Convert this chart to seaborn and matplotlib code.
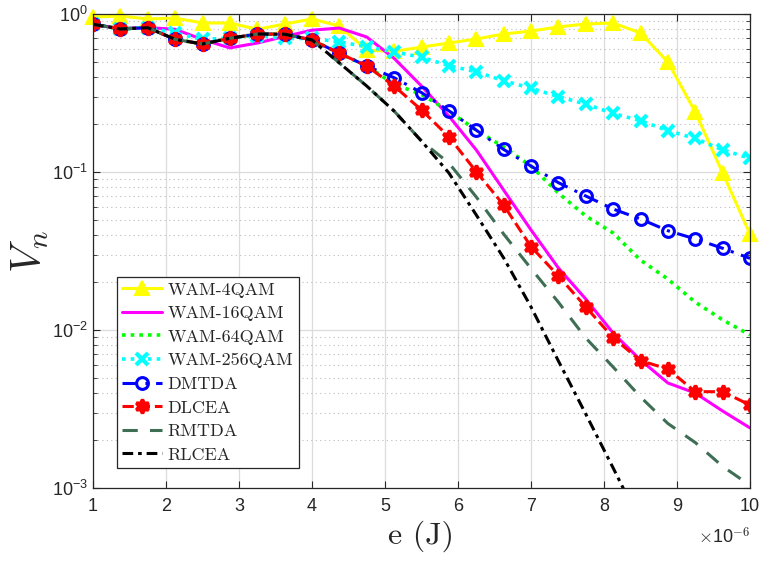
import matplotlib
matplotlib.use("Agg")
import matplotlib.pyplot as plt
import seaborn as sns
import numpy as np
from matplotlib.ticker import LogLocator, FixedLocator, NullFormatter

# ---------------- data ----------------
energy = [1.0, 1.375, 1.75, 2.125, 2.5, 2.875, 3.25, 3.625, 4.0, 4.375, 4.75, 5.125,
          5.5, 5.875, 6.25, 6.625, 7.0, 7.375, 7.75, 8.125, 8.5, 8.875, 9.25, 9.625, 10.0]

wam_4qam = [0.957, 0.971, 0.93, 0.943, 0.877, 0.877, 0.80, 0.864, 0.93, 0.839, 0.59, 0.58,
            0.618, 0.655, 0.695, 0.747, 0.78, 0.828, 0.865, 0.877, 0.758, 0.497, 0.24, 0.0986, 0.0405]
wam_16qam = [0.86, 0.81, 0.82, 0.80, 0.69, 0.61, 0.655, 0.72, 0.79, 0.815, 0.715, 0.524,
             0.35, 0.226, 0.138, 0.0769, 0.043, 0.0247, 0.0157, 0.00957, 0.00646, 0.00462, 0.00399, 0.00307, 0.0024]
wam_64qam = [0.861, 0.804, 0.819, 0.691, 0.646, 0.702, 0.747, 0.745, 0.685, 0.564, 0.469, 0.36,
             0.31, 0.243, 0.184, 0.144, 0.109, 0.0736, 0.0527, 0.0411, 0.0277, 0.021, 0.0150, 0.0116, 0.0093]
wam_256qam = [0.861, 0.804, 0.819, 0.758, 0.69, 0.705, 0.73, 0.70, 0.70, 0.667, 0.62, 0.577,
              0.532, 0.471, 0.431, 0.378, 0.339, 0.30, 0.269, 0.235, 0.211, 0.183, 0.163, 0.138, 0.122]
dmtda = [0.861, 0.804, 0.819, 0.691, 0.646, 0.702, 0.747, 0.745, 0.685, 0.564, 0.469, 0.395,
         0.318, 0.244, 0.184, 0.139, 0.109, 0.0856, 0.0705, 0.0583, 0.0504, 0.0425, 0.0377, 0.0329, 0.0284]
dlcea = [0.861, 0.804, 0.819, 0.691, 0.646, 0.702, 0.747, 0.745, 0.685, 0.564, 0.469, 0.350,
         0.247, 0.167, 0.1005, 0.0618, 0.0337, 0.022, 0.0140, 0.00894, 0.0064, 0.00566, 0.00407, 0.00407, 0.00335]
rmtda = [0.861, 0.804, 0.819, 0.691, 0.646, 0.702, 0.747, 0.745, 0.685, 0.49, 0.35, 0.243,
         0.157, 0.114, 0.0695, 0.0405, 0.0245, 0.0150, 0.0089, 0.00583, 0.00377, 0.00256, 0.00194, 0.00137, 0.00104]
rlcea = [0.861, 0.804, 0.819, 0.691, 0.646, 0.702, 0.747, 0.745, 0.685, 0.49, 0.35, 0.243,
         0.157, 0.0986, 0.0535, 0.0286, 0.014, 0.00637, 0.00294, 0.00134, 0.0006, 0.00026, 0.00011, 0.00005, 0.00002]

x_ticks = [1, 2, 3, 4, 5, 6, 7, 8, 9, 10]

# ---------------- style ----------------
sns.set_theme(style="ticks")
plt.rcParams["font.family"] = ["Liberation Sans", "DejaVu Sans"]
plt.rcParams["mathtext.fontset"] = "cm"
plt.rcParams["axes.unicode_minus"] = False

fig = plt.figure(figsize=(7.59, 5.65), dpi=100)
ax = fig.add_axes([93 / 759, 1 - 488 / 565, (750 - 93) / 759, (488 - 14) / 565])

series = [
    ("WAM-4QAM", wam_4qam, dict(color="#ffff00", linestyle="-", linewidth=2.2, marker="^",
                                markersize=10, markerfacecolor="#ffff00", markeredgecolor="#ffff00",
                                markeredgewidth=1.5, clip_on=False)),
    ("WAM-16QAM", wam_16qam, dict(color="#ff00ff", linestyle="-", linewidth=2.2)),
    ("WAM-64QAM", wam_64qam, dict(color="#00ff00", linestyle=(0, (1, 1.4)), linewidth=2.6)),
    ("WAM-256QAM", wam_256qam, dict(color="#00ffff", linestyle=(0, (1, 1.4)), linewidth=2.6, marker="x",
                                    markersize=8, markeredgewidth=3, markeredgecolor="#00ffff")),
    ("DMTDA", dmtda, dict(color="#0000ff", linestyle=(0, (5, 2.5, 1, 2.5)), linewidth=2.2, marker="o",
                          markersize=8.5, markerfacecolor="none", markeredgecolor="#0000ff",
                          markeredgewidth=2.2)),
    ("DLCEA", dlcea, dict(color="#ff0000", linestyle="--", linewidth=2.2, marker=(6, 1, 0), markersize=10,
                          markerfacecolor="#ff0000", markeredgecolor="#ff0000", markeredgewidth=2.5)),
    ("RMTDA", rmtda, dict(color="#3e6f55", linestyle=(0, (5, 4)), linewidth=2.2)),
    ("RLCEA", rlcea, dict(color="#000000", linestyle=(0, (3.5, 1.6, 1.2, 1.6)), linewidth=2.2)),
]

for label, vals, kw in series:
    sns.lineplot(x=energy, y=vals, ax=ax, label=label, sort=False, estimator=None, **kw)

ax.set_yscale("log")
ax.set_xlim(1, 10)
ax.set_ylim(1e-3, 1)

ax.xaxis.set_major_locator(FixedLocator(x_ticks))
ax.set_xticklabels([str(t) for t in x_ticks])
ax.yaxis.set_major_locator(LogLocator(base=10, numticks=10))
ax.yaxis.set_minor_locator(LogLocator(base=10, subs=np.arange(2, 10), numticks=20))
ax.yaxis.set_minor_formatter(NullFormatter())

ax.grid(True, which="major", axis="both", color="#dcdcdc", linestyle="-", linewidth=0.9)
ax.grid(True, which="minor", axis="y", color="#bcbcbc", linestyle=(0, (1, 3)), linewidth=0.8)
ax.set_axisbelow(True)

ax.tick_params(which="both", direction="in", top=True, right=True, colors="#262626",
               labelsize=13, labelcolor="#262626")
ax.tick_params(which="major", length=5, width=0.8)
ax.tick_params(which="minor", length=3, width=0.6)
ax.tick_params(axis="x", pad=7)
for s in ax.spines.values():
    s.set_color("#262626")
    s.set_linewidth(0.9)
    s.set_visible(True)

ax.set_xlabel("e (J)", fontsize=23, family="cmr10", color="#262626", labelpad=4)
ax.set_ylabel(r"$V_n$", fontsize=30, color="#262626", labelpad=1)
fig.text(750 / 759, 1 - 537 / 565, r"$\times$10$^{-6}$", ha="right", va="center",
         fontsize=13, color="#262626")

leg = ax.legend(loc="lower left", bbox_to_anchor=(0.0365, 0.042), borderaxespad=0,
                prop={"family": "cmr10", "size": 13}, frameon=True, fancybox=False,
                framealpha=1, edgecolor="#262626", handlelength=2.2, handletextpad=0.3,
                labelspacing=0.44, borderpad=0.3, numpoints=1)
leg.get_frame().set_linewidth(0.9)

fig.savefig("out.png", dpi=100)
